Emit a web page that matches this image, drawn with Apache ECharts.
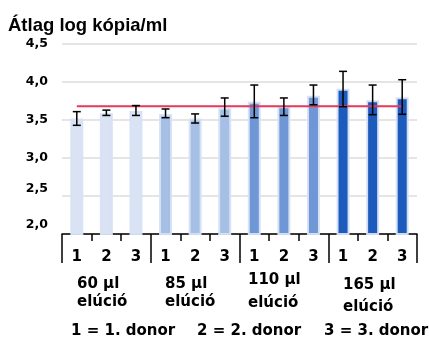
<!DOCTYPE html>
<html>
<head>
<meta charset="utf-8">
<script src="https://cdn.jsdelivr.net/npm/echarts@6/dist/echarts.min.js"></script>
<style>
  html, body { margin: 0; padding: 0; background: #fff; }
  #chart { width: 429px; height: 341px; }
</style>
</head>
<body>
<div id="chart"></div>
<script>
// Donor number under each bar, four elution volumes of three donors each
var donorLabels = ['1', '2', '3', '1', '2', '3', '1', '2', '3', '1', '2', '3'];
var groupLabels = ['60 µl', '85 µl', '110 µl', '165 µl'];
var groupSubLabel = 'elúció';
var legendLabels = ['1 = 1. donor', '2 = 2. donor', '3 = 3. donor'];
var yTickLabels = ['2,0', '2,5', '3,0', '3,5', '4,0', '4,5'];

// Mean log copies/ml and the error bar ends
var meanValues = [3.52, 3.59, 3.62, 3.58, 3.52, 3.66, 3.74, 3.68, 3.82, 3.91, 3.76, 3.80];
var errLow     = [3.43, 3.56, 3.56, 3.53, 3.46, 3.55, 3.53, 3.56, 3.70, 3.675, 3.57, 3.575];
var errHigh    = [3.61, 3.63, 3.69, 3.645, 3.58, 3.79, 3.96, 3.79, 3.96, 4.14, 3.96, 4.03];
// Reference level drawn across all bars
var refLine    = [3.68, 3.68, 3.68, 3.68, 3.68, 3.68, 3.68, 3.68, 3.68, 3.68, 3.68, 3.68];

var groupColors = ['#dae3f3', '#a6bfe5', '#6f97d6', '#1c5abc'];
var labelFont = 'DejaVu Sans';

var chart = echarts.init(document.getElementById('chart'), null, { renderer: 'canvas' });

var errData = errLow.map(function (lo, i) { return [i, lo, errHigh[i]]; });

var option = {
  backgroundColor: '#ffffff',
  animation: false,
  grid: { left: 62, right: 12, top: 44, bottom: 107 },
  xAxis: [
    {
      type: 'category',
      data: donorLabels,
      position: 'bottom',
      axisLine: { show: true, lineStyle: { color: '#000', width: 1.5 } },
      axisTick: { show: true, length: 7, lineStyle: { color: '#000', width: 1.5 } },
      axisLabel: {
        margin: 16,
        color: '#000',
        fontFamily: labelFont,
        fontWeight: 'bold',
        fontSize: 15
      },
      splitLine: { show: false }
    },
    {
      type: 'category',
      data: groupLabels,
      position: 'bottom',
      offset: 0,
      axisLine: { show: false },
      axisTick: { show: true, length: 29, lineStyle: { color: '#000', width: 1.5 } },
      axisLabel: { show: false },
      splitLine: { show: false }
    }
  ],
  yAxis: {
    type: 'value',
    min: 2,
    max: 4.5,
    interval: 0.5,
    axisLine: { show: false },
    axisTick: { show: false },
    splitLine: { show: true, lineStyle: { color: '#dcdcdc', width: 1.5 } },
    axisLabel: {
      margin: 14,
      formatter: function (v, idx) {
        var t = yTickLabels[idx];
        if (idx === 0) return '{low0|' + t + '}';
        if (idx === 1) return '{low1|' + t + '}';
        return '{n|' + t + '}';
      },
      rich: {
        n: { fontFamily: labelFont, fontWeight: 'bold', fontSize: 12.5, color: '#000' },
        low1: { fontFamily: labelFont, fontWeight: 'bold', fontSize: 12.5, color: '#000', padding: [0, 0, 14, 0] },
        low0: { fontFamily: labelFont, fontWeight: 'bold', fontSize: 12.5, color: '#000', padding: [0, 0, 18, 0] }
      }
    }
  },
  series: [
    {
      type: 'bar',
      data: meanValues,
      barWidth: 13,
      itemStyle: {
        color: function (p) { return groupColors[Math.floor(p.dataIndex / 3)]; },
        borderColor: 'rgba(214,226,245,0.95)',
        borderWidth: 2
      },
      z: 2
    },
    {
      type: 'line',
      data: refLine,
      symbol: 'none',
      lineStyle: { color: '#e8395a', width: 2 },
      z: 3
    },
    {
      type: 'custom',
      data: errData,
      z: 4,
      renderItem: function (params, api) {
        var x = api.value(0);
        var lo = api.coord([x, api.value(1)]);
        var hi = api.coord([x, api.value(2)]);
        var half = 4;
        var style = { stroke: '#000', lineWidth: 1.5 };
        return {
          type: 'group',
          children: [
            { type: 'line', shape: { x1: lo[0], y1: lo[1], x2: hi[0], y2: hi[1] }, style: style },
            { type: 'line', shape: { x1: hi[0] - half, y1: hi[1], x2: hi[0] + half, y2: hi[1] }, style: style },
            { type: 'line', shape: { x1: lo[0] - half, y1: lo[1], x2: lo[0] + half, y2: lo[1] }, style: style }
          ]
        };
      }
    }
  ],
  graphic: []
};

chart.setOption(option);

// Title, elution volume captions and donor key
var txt = function (text, x, y, size, family) {
  return {
    type: 'text',
    left: x,
    top: y,
    style: {
      text: text,
      fill: '#000',
      fontFamily: family || labelFont,
      fontWeight: 'bold',
      fontSize: size
    }
  };
};

var groupPos = [
  { x: 77, y1: 277, y2: 295 },
  { x: 165, y1: 277, y2: 295 },
  { x: 248, y1: 273, y2: 296 },
  { x: 343, y1: 278, y2: 300 }
];

var graphics = [txt('Átlag log kópia/ml', 8, 16, 18.5, 'Liberation Sans')];
groupLabels.forEach(function (g, i) {
  graphics.push(txt(g, groupPos[i].x, groupPos[i].y1, 15));
  graphics.push(txt(groupSubLabel, groupPos[i].x, groupPos[i].y2, 15));
});
var legendX = [71, 197, 324];
legendLabels.forEach(function (l, i) {
  graphics.push(txt(l, legendX[i], 324, 15));
});

chart.setOption({ graphic: graphics });
</script>
</body>
</html>
